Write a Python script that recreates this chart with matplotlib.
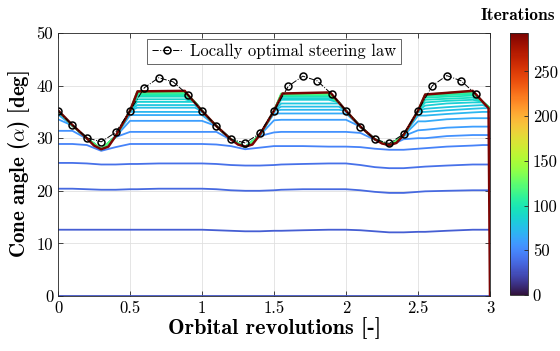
import numpy as np
import matplotlib as mpl
mpl.use("Agg")
import matplotlib.pyplot as plt
from matplotlib.ticker import FuncFormatter

plt.rcParams['font.family'] = 'cmr10'
plt.rcParams['mathtext.fontset'] = 'cm'
plt.rcParams['axes.formatter.use_mathtext'] = True

X_LABEL_TEXT = 'Orbital revolutions [-]'
Y_LABEL_TEXT = r'Cone angle ($\alpha$) [deg]'
LEGEND_TEXT = 'Locally optimal steering law'
CBAR_TITLE = 'Iterations'
ITER_MAX = 293

# Locally optimal steering law, sampled every 0.1 revolution
rev_lo = [0.0, 0.1, 0.2, 0.3, 0.4, 0.5, 0.6, 0.7, 0.8, 0.9,
          1.0, 1.1, 1.2, 1.3, 1.4, 1.5, 1.6, 1.7, 1.8, 1.9,
          2.0, 2.1, 2.2, 2.3, 2.4, 2.5, 2.6, 2.7, 2.8, 2.9]
alpha_lo = [35.2, 32.5, 30.1, 29.3, 31.1, 35.2, 39.6, 41.5, 40.7, 38.3,
            35.2, 32.3, 29.8, 29.1, 30.9, 35.2, 39.9, 41.8, 40.9, 38.4,
            35.2, 32.2, 29.8, 29.0, 30.8, 35.2, 40.0, 41.9, 40.9, 38.4]

# Converged profile (last iteration)
rev_final = [0.0, 0.1, 0.2, 0.25, 0.3, 0.35, 0.4, 0.5, 0.553, 0.88, 0.9,
             1.0, 1.1, 1.2, 1.25, 1.3, 1.35, 1.4, 1.5, 1.56, 1.89, 1.9,
             2.0, 2.1, 2.2, 2.25, 2.3, 2.35, 2.4, 2.5, 2.55, 2.88, 2.9,
             2.99, 3.0]
alpha_final = [35.3, 32.5, 30.0, 28.6, 27.9, 28.4, 30.4, 35.2, 38.9, 39.0, 38.3,
               35.2, 32.3, 29.8, 28.8, 28.4, 28.8, 30.6, 35.2, 38.5, 38.7, 38.4,
               35.2, 32.2, 29.8, 29.0, 28.7, 29.1, 30.6, 35.2, 38.3, 39.0, 38.4,
               35.7, 0.0]

# Intermediate iterations, all on the same revolution grid
rev_grid = [0.0, 0.1, 0.2, 0.3, 0.4, 0.5, 0.55, 0.7, 0.88, 0.95,
            1.0, 1.1, 1.2, 1.3, 1.4, 1.5, 1.55, 1.7, 1.88, 1.95,
            2.0, 2.1, 2.2, 2.3, 2.4, 2.5, 2.55, 2.7, 2.88, 2.95, 3.0]

alpha_it028 = [0.0, 0.0, 0.0, 0.0, 0.0, 0.0, 0.0, 0.0, 0.0, 0.0,
               0.0, 0.0, 0.0, 0.0, 0.0, 0.0, 0.0, 0.0, 0.0, 0.0,
               0.0, 0.0, 0.0, 0.0, 0.0, 0.0, 0.0, 0.0, 0.0, 0.0, 0.0]
alpha_it032 = [12.6, 12.6, 12.6, 12.6, 12.6, 12.6, 12.6, 12.6, 12.6, 12.6,
               12.6, 12.5, 12.4, 12.3, 12.3, 12.4, 12.4, 12.5, 12.6, 12.6,
               12.6, 12.5, 12.3, 12.1, 12.1, 12.2, 12.2, 12.4, 12.6, 12.6, 12.6]
alpha_it036 = [20.4, 20.4, 20.3, 20.2, 20.2, 20.3, 20.3, 20.4, 20.4, 20.4,
               20.4, 20.3, 20.1, 20.0, 20.0, 20.1, 20.2, 20.3, 20.3, 20.3,
               20.3, 20.1, 19.8, 19.6, 19.6, 19.8, 19.9, 20.0, 20.1, 20.1, 20.1]
alpha_it040 = [25.3, 25.3, 25.2, 25.0, 25.0, 25.1, 25.1, 25.2, 25.2, 25.2,
               25.2, 25.1, 24.9, 24.8, 24.8, 24.9, 25.0, 25.1, 25.2, 25.2,
               25.2, 24.9, 24.5, 24.3, 24.3, 24.5, 24.6, 24.8, 25.0, 25.0, 25.0]
alpha_it048 = [28.9, 28.9, 28.7, 27.6, 28.3, 28.9, 28.9, 28.9, 28.9, 28.9,
               28.9, 28.8, 28.5, 27.9, 28.2, 28.5, 28.5, 28.5, 28.4, 28.4,
               28.4, 28.3, 28.0, 27.8, 27.8, 28.0, 28.1, 28.4, 28.6, 28.7, 28.7]
alpha_it054 = [31.4, 31.4, 29.9, 27.8, 30.2, 31.2, 31.2, 31.2, 31.2, 31.2,
               31.2, 31.2, 29.7, 28.2, 30.4, 31.1, 31.2, 31.2, 31.2, 31.2,
               31.2, 31.0, 29.7, 28.5, 29.8, 30.0, 30.0, 30.4, 30.6, 30.6, 30.6]
alpha_it060 = [33.6, 32.4, 30.0, 27.9, 30.3, 33.3, 33.3, 33.3, 33.3, 33.3,
               33.3, 32.3, 29.8, 28.3, 30.5, 33.4, 33.5, 33.5, 33.5, 33.5,
               33.5, 32.2, 29.8, 28.6, 30.4, 31.5, 31.6, 32.0, 32.2, 32.2, 32.2]
alpha_it066 = [34.5, 32.4, 30.0, 27.9, 30.3, 34.4, 34.4, 34.4, 34.4, 34.4,
               34.4, 32.3, 29.8, 28.3, 30.5, 34.7, 34.7, 34.7, 34.7, 34.7,
               34.7, 32.2, 29.8, 28.6, 30.5, 33.2, 33.2, 33.6, 33.8, 33.8, 33.8]
alpha_it071 = [35.0, 32.4, 30.0, 27.9, 30.3, 35.0, 35.0, 35.0, 35.0, 35.0,
               35.0, 32.3, 29.8, 28.3, 30.5, 35.2, 35.4, 35.4, 35.4, 35.4,
               35.2, 32.2, 29.8, 28.6, 30.5, 34.3, 34.3, 34.6, 34.9, 35.0, 35.0]
alpha_it076 = [35.2, 32.4, 30.0, 27.9, 30.3, 35.2, 35.8, 35.8, 35.8, 35.8,
               35.2, 32.3, 29.8, 28.3, 30.5, 35.2, 36.0, 36.0, 36.0, 36.0,
               35.2, 32.2, 29.8, 28.6, 30.5, 35.0, 35.0, 35.3, 35.6, 35.7, 35.7]
alpha_it080 = [35.2, 32.4, 30.0, 27.9, 30.3, 35.2, 36.3, 36.3, 36.3, 36.3,
               35.2, 32.3, 29.8, 28.3, 30.5, 35.2, 36.6, 36.6, 36.6, 36.6,
               35.2, 32.2, 29.8, 28.6, 30.5, 35.2, 35.6, 35.9, 36.2, 36.3, 35.7]
alpha_it084 = [35.2, 32.4, 30.0, 27.9, 30.3, 35.2, 36.9, 36.9, 36.9, 36.9,
               35.2, 32.3, 29.8, 28.3, 30.5, 35.2, 37.3, 37.3, 37.3, 36.8,
               35.2, 32.2, 29.8, 28.6, 30.5, 35.2, 36.2, 36.6, 36.8, 36.8, 35.7]
alpha_it088 = [35.2, 32.4, 30.0, 27.9, 30.3, 35.2, 37.4, 37.4, 37.4, 36.9,
               35.2, 32.3, 29.8, 28.3, 30.5, 35.2, 37.6, 37.6, 37.6, 36.8,
               35.2, 32.2, 29.8, 28.6, 30.5, 35.2, 36.8, 37.1, 37.3, 36.9, 35.7]
alpha_it092 = [35.2, 32.4, 30.0, 27.9, 30.3, 35.2, 37.9, 37.9, 37.9, 36.9,
               35.2, 32.3, 29.8, 28.3, 30.5, 35.2, 37.9, 37.9, 37.9, 36.8,
               35.2, 32.2, 29.8, 28.6, 30.5, 35.2, 37.3, 37.5, 37.7, 36.9, 35.7]
alpha_it097 = [35.2, 32.4, 30.0, 27.9, 30.3, 35.2, 38.1, 38.1, 38.1, 36.9,
               35.2, 32.3, 29.8, 28.3, 30.5, 35.2, 38.0, 38.0, 38.0, 36.8,
               35.2, 32.2, 29.8, 28.6, 30.5, 35.2, 37.7, 37.9, 38.1, 36.9, 35.7]
alpha_it102 = [35.2, 32.4, 30.0, 27.9, 30.3, 35.2, 38.3, 38.3, 38.3, 36.9,
               35.2, 32.3, 29.8, 28.3, 30.5, 35.2, 38.1, 38.1, 38.1, 36.8,
               35.2, 32.2, 29.8, 28.6, 30.5, 35.2, 38.0, 38.2, 38.4, 36.9, 35.7]
alpha_it107 = [35.2, 32.4, 30.0, 27.9, 30.3, 35.2, 38.5, 38.5, 38.5, 36.9,
               35.2, 32.3, 29.8, 28.3, 30.5, 35.2, 38.2, 38.2, 38.2, 36.8,
               35.2, 32.2, 29.8, 28.6, 30.5, 35.2, 38.2, 38.4, 38.6, 36.9, 35.7]
alpha_it112 = [35.2, 32.4, 30.0, 27.9, 30.3, 35.2, 38.6, 38.6, 38.6, 36.9,
               35.2, 32.3, 29.8, 28.3, 30.5, 35.2, 38.3, 38.3, 38.3, 36.8,
               35.2, 32.2, 29.8, 28.6, 30.5, 35.2, 38.3, 38.5, 38.8, 36.9, 35.7]
alpha_it117 = [35.2, 32.4, 30.0, 27.9, 30.3, 35.2, 38.8, 38.8, 38.8, 36.9,
               35.2, 32.3, 29.8, 28.3, 30.5, 35.2, 38.4, 38.4, 38.4, 36.8,
               35.2, 32.2, 29.8, 28.6, 30.5, 35.2, 38.3, 38.6, 38.9, 36.9, 35.7]
alpha_it122 = [35.2, 32.4, 30.0, 27.9, 30.3, 35.2, 38.9, 38.9, 38.9, 36.9,
               35.2, 32.3, 29.8, 28.3, 30.5, 35.2, 38.5, 38.5, 38.5, 36.8,
               35.2, 32.2, 29.8, 28.6, 30.5, 35.2, 38.3, 38.6, 39.0, 36.9, 35.7]

iteration_curves = [
    (28, alpha_it028), (32, alpha_it032), (36, alpha_it036),
    (40, alpha_it040), (48, alpha_it048), (54, alpha_it054),
    (60, alpha_it060), (66, alpha_it066), (71, alpha_it071),
    (76, alpha_it076), (80, alpha_it080), (84, alpha_it084),
    (88, alpha_it088), (92, alpha_it092), (97, alpha_it097),
    (102, alpha_it102), (107, alpha_it107), (112, alpha_it112),
    (117, alpha_it117), (122, alpha_it122),
]

cmap = plt.get_cmap('turbo')
norm = mpl.colors.Normalize(vmin=0, vmax=ITER_MAX)

fig = plt.figure(figsize=(5.6, 3.51), dpi=100)
ax = fig.add_axes([58 / 560, 55 / 351, 432 / 560, 263 / 351])

for it, alpha in iteration_curves:
    ax.plot(rev_grid, alpha, color=cmap(norm(it)), lw=1.3, solid_capstyle='butt')

ax.plot(rev_final, alpha_final, color=cmap(norm(ITER_MAX)), lw=1.8)

ax.plot(rev_lo, alpha_lo, linestyle='-.', color='black', lw=0.7,
        marker='o', markersize=5, markerfacecolor='none',
        markeredgecolor='black', markeredgewidth=1.1, label=LEGEND_TEXT)

ax.set_xlim(0, 3)
ax.set_ylim(0, 50)
ax.set_xticks(np.arange(0, 3.01, 0.5))
ax.set_yticks(np.arange(0, 51, 10))
ax.xaxis.set_major_formatter(FuncFormatter(lambda v, p: '%g' % v))
ax.yaxis.set_major_formatter(FuncFormatter(lambda v, p: '%g' % v))
ax.tick_params(direction='in', length=3.5, width=0.6, labelsize=12,
               top=True, right=True, color='0.15')
for spine in ax.spines.values():
    spine.set_color('0.15')
    spine.set_linewidth(0.6)
ax.grid(True, color='0.88', lw=0.6)
ax.set_axisbelow(True)

ax.set_xlabel(X_LABEL_TEXT, family='cmb10', fontsize=16, labelpad=1)
ax.set_ylabel(Y_LABEL_TEXT, family='cmb10', fontsize=15, labelpad=3)

leg = ax.legend(loc='upper center', bbox_to_anchor=(0.5, 0.99),
                fontsize=12, fancybox=False, framealpha=1,
                edgecolor='0.3', handlelength=1.8, handletextpad=0.5,
                borderpad=0.3, borderaxespad=0.2)
leg.get_frame().set_linewidth(0.6)

# colour scale for the iteration number
cax = fig.add_axes([510 / 560, 56 / 351, 18 / 560, 262 / 351])
sm = mpl.cm.ScalarMappable(norm=norm, cmap=cmap)
cbar = fig.colorbar(sm, cax=cax)
cbar.set_ticks(np.arange(0, 251, 50))
cbar.ax.yaxis.set_major_formatter(FuncFormatter(lambda v, p: '%g' % v))
cbar.ax.tick_params(direction='in', length=3, width=0.6, labelsize=12,
                    color='0.15')
cbar.outline.set_edgecolor('0.15')
cbar.outline.set_linewidth(0.6)
fig.text(518 / 560, 1 - 15 / 351, CBAR_TITLE, family='cmb10', fontsize=12.5,
         ha='center', va='center')

fig.savefig('out.png', dpi=100)
